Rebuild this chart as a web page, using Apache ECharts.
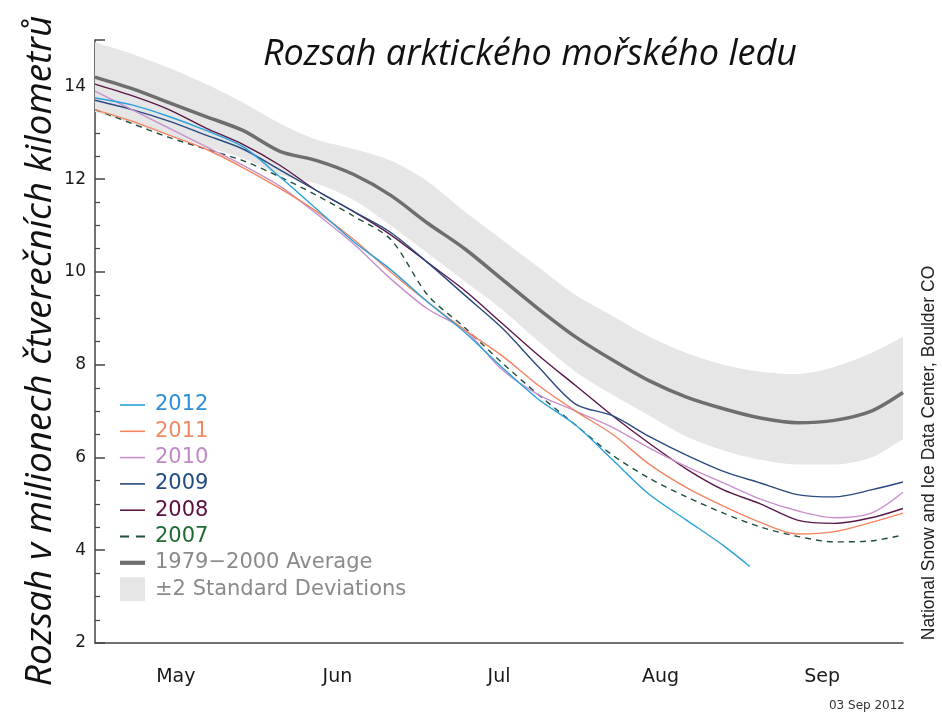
<!DOCTYPE html>
<html>
<head>
<meta charset="utf-8">
<script src="https://cdn.jsdelivr.net/npm/echarts@6/dist/echarts.min.js"></script>
<style>html,body{margin:0;padding:0;background:#fff;}#c{width:942px;height:718px;}</style>
</head>
<body>
<div id="c"></div>
<script>
// Days since 1 May 2012 (weekly samples)
const days = [0,7,14,21,28,35,42,49,56,63,70,77,84,91,98,105,112,119,126,133,140,147,153];
const months = ['May','Jun','Jul','Aug','Sep'];
const yTicks = [2,4,6,8,10,12,14];

const avg    = [14.2,13.95,13.65,13.35,13.05,12.6,12.4,12.1,11.65,11.05,10.5,9.85,9.2,8.6,8.1,7.65,7.3,7.05,6.85,6.75,6.8,7.0,7.4];
const sdHigh = [14.95,14.7,14.4,14.05,13.65,13.2,12.85,12.65,12.4,11.95,11.3,10.7,10.1,9.5,9.05,8.6,8.25,8.0,7.85,7.8,7.95,8.25,8.6];
const sdLow  = [13.45,13.2,12.95,12.7,12.45,12.1,11.9,11.55,11.0,10.4,9.8,9.2,8.5,7.85,7.35,6.9,6.45,6.15,5.95,5.85,5.85,6.0,6.4];

const days2012 = [0,7,14,21,28,35,42,49,56,63,70,77,84,91,98,105,112,119,124];
const y2012 = [13.75,13.6,13.35,13.05,12.7,12.05,11.35,10.65,10.05,9.35,8.7,7.95,7.25,6.7,5.95,5.2,4.65,4.1,3.65];
const y2011 = [13.5,13.25,12.95,12.65,12.25,11.8,11.3,10.7,10.0,9.35,8.75,8.2,7.55,7.0,6.5,5.85,5.35,4.95,4.6,4.35,4.4,4.6,4.8];
const y2010 = [13.9,13.5,13.1,12.7,12.3,11.85,11.25,10.6,9.85,9.2,8.75,7.9,7.35,7.0,6.65,6.2,5.8,5.45,5.1,4.85,4.7,4.8,5.25];
const y2009 = [13.7,13.5,13.25,12.95,12.65,12.2,11.75,11.3,10.85,10.2,9.5,8.8,7.95,7.15,6.9,6.45,6.05,5.7,5.45,5.2,5.15,5.3,5.47];
const y2008 = [14.05,13.8,13.5,13.1,12.75,12.3,11.75,11.3,10.8,10.2,9.6,8.9,8.2,7.55,6.9,6.3,5.75,5.3,5.0,4.65,4.58,4.7,4.9];
const y2007 = [13.5,13.2,12.9,12.65,12.4,12.05,11.65,11.2,10.7,9.5,8.8,8.05,7.35,6.7,6.05,5.55,5.15,4.8,4.5,4.3,4.18,4.2,4.33];

const DAY0 = Date.UTC(2012, 4, 1);
const toT = d => DAY0 + d * 86400000;
const pairs = (vals, ds) => vals.map((v, i) => [toT(ds[i]), v]);

const LINE_ICON = 'path://M0,0H25V1.6H0Z';
const DASH_ICON = 'path://M0,0H8V1.6H0Z M14,0H22V1.6H14Z';
const AVG_ICON = 'path://M0,0H25V4.2H0Z';

const yearStyles = [
  {name:'2012', data:y2012, ds:days2012, color:'#2aa0dc', text:'#2f8fd6', type:'solid', icon:LINE_ICON},
  {name:'2011', data:y2011, ds:days, color:'#f4845f', text:'#ef8a62', type:'solid', icon:LINE_ICON},
  {name:'2010', data:y2010, ds:days, color:'#c98fcc', text:'#bf8ac6', type:'solid', icon:LINE_ICON},
  {name:'2009', data:y2009, ds:days, color:'#2a4a80', text:'#224d7e', type:'solid', icon:LINE_ICON},
  {name:'2008', data:y2008, ds:days, color:'#5a1848', text:'#5a0f40', type:'solid', icon:LINE_ICON},
  {name:'2007', data:y2007, ds:days, color:'#1f4f40', text:'#1f6b35', type:[6,5], icon:DASH_ICON}
];

const AXIS = '#444';
const AVG_NAME = '1979\u22122000 Average';
const SD_NAME = '±2 Standard Deviations';
const series = [
  {name:'sdBase', type:'line', xAxisIndex:1, data:pairs(sdLow, days), stack:'sd', symbol:'none', smooth:0.3,
   lineStyle:{width:0, opacity:0}, silent:true, z:1},
  {name:SD_NAME, type:'line', xAxisIndex:1,
   data:days.map((d,i)=>[toT(d), +(sdHigh[i]-sdLow[i]).toFixed(3)]), stack:'sd', symbol:'none', smooth:0.3,
   lineStyle:{width:0, opacity:0}, areaStyle:{color:'#e6e6e6', opacity:1}, itemStyle:{color:'#e6e6e6'}, silent:true, z:1},
  {name:AVG_NAME, type:'line', xAxisIndex:1, data:pairs(avg, days), symbol:'none',
   smooth:0.3, lineStyle:{color:'#6e6e6e', width:3.5}, itemStyle:{color:'#6e6e6e'}, z:2}
];
yearStyles.slice().reverse().forEach(s => {
  series.push({name:s.name, type:'line', xAxisIndex:1, data:pairs(s.data, s.ds), symbol:'none',
    smooth:0.3, lineStyle:{color:s.color, width:1.4, type:s.type}, itemStyle:{color:s.color}, z:3});
});

const legendData = yearStyles.map(s => ({name:s.name, icon:s.icon, itemStyle:{color:s.color}, textStyle:{color:s.text}}));
legendData.push({name:AVG_NAME, icon:AVG_ICON, itemStyle:{color:'#6e6e6e'}, textStyle:{color:'#8a8a8a'}});
legendData.push({name:SD_NAME, icon:'rect', itemStyle:{color:'#e6e6e6'}, textStyle:{color:'#8a8a8a'}});

const chart = echarts.init(document.getElementById('c'), null, {renderer:'canvas'});
chart.setOption({
  animation:false,
  backgroundColor:'#ffffff',
  title:{
    text:'Rozsah arktického mořského ledu', left:258, top:32,
    textStyle:{fontFamily:'Open Sans', fontStyle:'italic', fontWeight:'normal', fontSize:36, color:'#111'}
  },
  legend:{
    orient:'vertical', left:120, top:393, padding:0, itemWidth:25, itemHeight:24, itemGap:2.3, symbolKeepAspect:true,
    textStyle:{fontSize:21, fontFamily:'DejaVu Sans', lineHeight:24, padding:[0,0,0,5]}, data:legendData, selectedMode:false
  },
  grid:{left:95, right:39, top:40, bottom:75, containLabel:false},
  xAxis:[
    {type:'category', data:months, boundaryGap:true,
     axisLine:{lineStyle:{color:AXIS, width:1.5}},
     axisTick:{inside:true, length:10, lineStyle:{color:AXIS, width:1.5}},
     axisLabel:{fontSize:19, color:'#1a1a1a', margin:25, fontFamily:'DejaVu Sans'},
     splitLine:{show:false}},
    {type:'time', min:toT(0), max:toT(153), show:false}
  ],
  yAxis:{
    type:'value', min:2, max:15, interval:2,
    axisLine:{show:true, lineStyle:{color:AXIS, width:1.5}},
    axisTick:{show:true, inside:true, length:10, lineStyle:{color:AXIS, width:1.5}},
    minorTick:{show:true, splitNumber:4, length:5, lineStyle:{color:AXIS, width:1.2}},
    splitLine:{show:false},
    axisLabel:{fontSize:17, color:'#1a1a1a', margin:9, fontFamily:'DejaVu Sans', showMaxLabel:false,
      formatter: v => yTicks.indexOf(v) >= 0 ? String(v) : ''}
  },
  graphic:[
    {type:'text', x:40, y:351, rotation:Math.PI/2,
     style:{text:'Rozsah v milionech čtverečních kilometrů', fill:'#111', align:'center', verticalAlign:'middle',
       font:'italic 37px "Open Sans"'}},
    {type:'text', x:929, y:453, rotation:Math.PI/2,
     style:{text:'National Snow and Ice Data Center, Boulder CO', fill:'#222', align:'center', verticalAlign:'middle',
       font:'17.5px "Liberation Sans"'}},
    {type:'text', x:905, y:706,
     style:{text:'03 Sep 2012', fill:'#333', align:'right', verticalAlign:'middle', font:'12px "DejaVu Sans"'}}
  ],
  series:series
});
</script>
</body>
</html>
